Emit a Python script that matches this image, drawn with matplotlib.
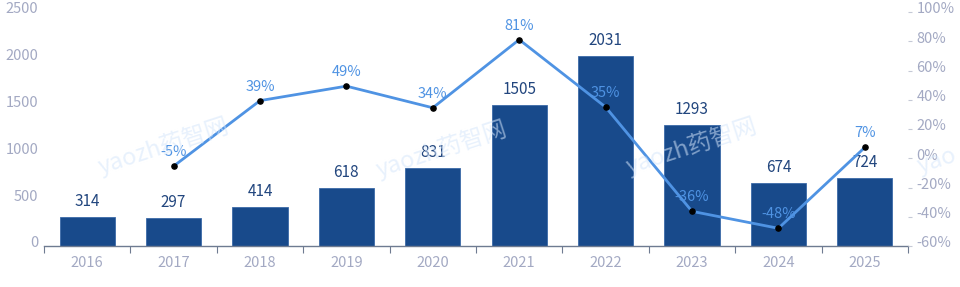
import numpy as np
import matplotlib.pyplot as plt
from matplotlib.transforms import ScaledTranslation

plt.rcParams['font.family'] = ['Noto Sans CJK SC', 'DejaVu Sans']

# data
years = ['2016', '2017', '2018', '2019', '2020', '2021', '2022', '2023', '2024', '2025']
counts = [314, 297, 414, 618, 831, 1505, 2031, 1293, 674, 724]
growth_years = years[1:]
growth = [-5.4, 39.4, 49.3, 34.5, 81.1, 35.0, -36.3, -47.9, 7.4]

axis_txt = '#a3a9c3'
bar_col = '#184a8b'
line_col = '#4f93e3'

fig = plt.figure(figsize=(9.6, 2.87), dpi=100)
ax = fig.add_axes([44 / 960, 41 / 287, 864 / 960, 234 / 287])
ax2 = ax.twinx()

x = np.arange(len(years))
ax.bar(x, counts, width=0.64, color=bar_col, edgecolor='#3c6aa8', linewidth=0.6, zorder=2)
for xi, v in zip(x, counts):
    ax.annotate(str(v), (xi, v), xytext=(0, 5), textcoords='offset points',
                ha='center', va='bottom', fontsize=11, color='#22467e')

ax.set_xlim(-0.5, len(years) - 0.5)
ax.set_ylim(0, 2500)
ax.set_yticks([0, 500, 1000, 1500, 2000, 2500])
ax.set_xticks(x)
ax.set_xticklabels(years)
ax.set_xticks(np.arange(-0.5, len(years)), minor=True)
ax.tick_params(axis='x', which='major', length=0, pad=7, labelsize=10.5, labelcolor=axis_txt)
ax.tick_params(axis='x', which='minor', length=5, color='#6e7b91', width=0.8)
ax.tick_params(axis='y', length=0, labelsize=10.5, labelcolor=axis_txt, pad=4)
for s in ['top', 'right', 'left']:
    ax.spines[s].set_visible(False)
ax.spines['bottom'].set_color('#6e7b91')
ax.spines['bottom'].set_linewidth(1.0)

gx = np.arange(1, len(years))
ax2.plot(gx, growth, color=line_col, lw=2, zorder=3)
ax2.scatter(gx, growth, s=14, color='black', zorder=4)
for xi, g in zip(gx, growth):
    ax2.annotate(f'{round(g)}%', (xi, g), xytext=(0, 5), textcoords='offset points',
                 ha='center', va='bottom', fontsize=10.5, color=line_col)
ax2.set_ylim(-60, 100)
ax2.set_yticks(range(-60, 101, 20))
ax2.set_yticklabels([f'{t}%' for t in range(-60, 101, 20)])
ax2.tick_params(axis='y', length=3, color='#c5c9d6', labelsize=10.5, labelcolor=axis_txt, pad=3)
for s in ['top', 'right', 'left', 'bottom']:
    ax2.spines[s].set_visible(False)

# y labels sit a little above their gridline in the original
shift = ScaledTranslation(0, 3 / 72, fig.dpi_scale_trans)
for lab in ax.get_yticklabels() + ax2.get_yticklabels():
    lab.set_transform(lab.get_transform() + shift)

# watermark
for wx, wy in [(0.17, 0.49), (0.46, 0.48), (0.72, 0.49)]:
    fig.text(wx, wy, 'yaozh药智网', fontsize=17, color='#d5e6fb', alpha=0.55,
             rotation=18, ha='center', va='center', zorder=0)
fig.text(1.0, 0.44, 'yao', fontsize=17, color='#d5e6fb', alpha=0.55,
         rotation=18, ha='right', va='center', zorder=0)

fig.savefig('out.png', dpi=100)
